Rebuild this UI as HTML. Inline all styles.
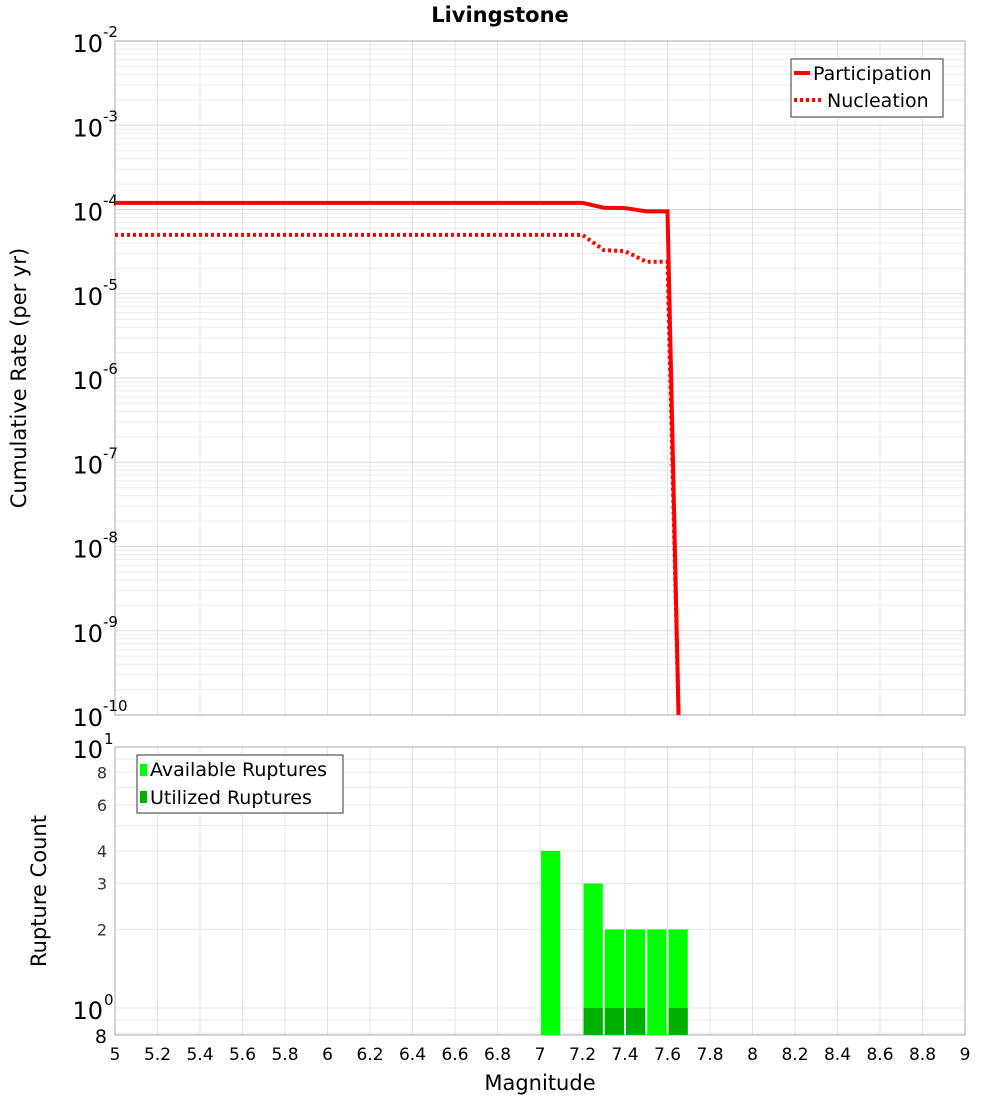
<!DOCTYPE html>
<html><head><meta charset="utf-8"><style>
body{margin:0;background:#fff;font-family:"DejaVu Sans","Liberation Sans",sans-serif}
svg text{font-family:"DejaVu Sans","Liberation Sans",sans-serif}
</style></head><body>
<svg id="c" width="1000" height="1100" xmlns="http://www.w3.org/2000/svg">
<text x="500" y="22" text-anchor="middle" font-size="21" font-weight="bold">Livingstone</text>
<g id="topg"></g>
<g id="botg"></g>
<text transform="translate(26,378) rotate(-90)" text-anchor="middle" font-size="21">Cumulative Rate (per yr)</text>
<text transform="translate(46,891) rotate(-90)" text-anchor="middle" font-size="21">Rupture Count</text>
<text x="540" y="1090" text-anchor="middle" font-size="21">Magnitude</text>
</svg>
<script>
const mags=[5,7.2,7.3,7.4,7.5,7.6,7.652];
const participation=[1.2e-4,1.2e-4,1.05e-4,1.04e-4,9.5e-5,9.5e-5,1e-10];
const nucleation=[5e-5,5e-5,3.3e-5,3.2e-5,2.4e-5,2.4e-5,1e-10];
const binCenters=[7.05,7.25,7.35,7.45,7.55,7.65];
const available=[4,3,2,2,2,2];
const utilized=[0,1,1,1,0,1];
const xTicks=[5,5.2,5.4,5.6,5.8,6,6.2,6.4,6.6,6.8,7,7.2,7.4,7.6,7.8,8,8.2,8.4,8.6,8.8,9];
const NS="http://www.w3.org/2000/svg";
const L=115,R=965,T1=41,B1=715,T2=747,B2=1035;
const x=m=>L+(m-5)/4*(R-L);
const y1=v=>T1+(-2-Math.log10(v))*(B1-T1)/8;
const y2=v=>1008-Math.log10(v)*261;
function el(p,t,a){const e=document.createElementNS(NS,t);for(const k in a)e.setAttribute(k,a[k]);p.appendChild(e);return e;}
const topG=document.getElementById('topg'),botG=document.getElementById('botg'),svgEl=document.getElementById('c');
let defs=el(svgEl,'defs',{});let cp=el(defs,'clipPath',{id:'cp1'});el(cp,'rect',{x:L,y:T1,width:R-L,height:B1-T1});
for(let e=-10;e<-2;e++)for(let k=1;k<10;k++){const v=k*Math.pow(10,e);const yy=y1(v);
 const g=el(topG,'line',{x1:L,x2:R,y1:yy,y2:yy,stroke:k==1?'#dcdcdc':'#ececec','stroke-width':1});
 }
xTicks.forEach(m=>{const g=el(topG,'line',{x1:x(m),x2:x(m),y1:T1,y2:B1,stroke:'#e4e4e4'});
 const g2=el(botG,'line',{x1:x(m),x2:x(m),y1:T2,y2:B2,stroke:'#e4e4e4'});});
el(topG,'rect',{x:L,y:T1,width:R-L,height:B1-T1,fill:'none',stroke:'#aaa'});
for(let e=-10;e<=-2;e++){const yy=y1(Math.pow(10,e));
 const t=el(topG,'text',{x:103,y:yy+11,'text-anchor':'end','font-size':24});t.textContent='10';
 
 const s=el(topG,'text',{x:103,y:yy-4,'font-size':15});s.textContent=String(e);}
function line(vals,dash,name){const pts=mags.map((m,i)=>x(m)+','+y1(vals[i])).join(' ');
 const p=el(topG,'polyline',{points:pts,fill:'none',stroke:'#ff0000','stroke-width':4,'clip-path':'url(#cp1)'});
 if(dash)p.setAttribute('stroke-dasharray','3,3');}
line(participation,false,'participation-line');line(nucleation,true,'nucleation-line');
let lg=el(topG,'g',{});
el(lg,'rect',{x:791,y:59,width:152,height:58,fill:'#fff',stroke:'#333'});
el(lg,'line',{x1:794,x2:810,y1:73,y2:73,stroke:'#f00','stroke-width':4});
el(lg,'line',{x1:794,x2:822,y1:100,y2:100,stroke:'#f00','stroke-width':4,'stroke-dasharray':'3,3'});
let t1=el(lg,'text',{x:813,y:80,'font-size':19});t1.textContent='Participation';
let t2=el(lg,'text',{x:827,y:107,'font-size':19});t2.textContent='Nucleation';
[0.8,0.9,1,2,3,4,5,6,7,8,9,10].forEach(v=>{const yy=y2(v);const g=el(botG,'line',{x1:L,x2:R,y1:yy,y2:yy,stroke:'#e8e8e8'});});
el(botG,'rect',{x:L,y:T2,width:R-L,height:B2-T2,fill:'none',stroke:'#aaa'});
binCenters.forEach((m,i)=>{const w=x(0.1+5)-x(5);
 const b=el(botG,'rect',{x:x(m)-w/2+1,y:y2(available[i]),width:w-2,height:B2-y2(available[i]),fill:'#00ff00'});
 
 if(utilized[i]>0){const u=el(botG,'rect',{x:x(m)-w/2+1,y:y2(utilized[i]),width:w-2,height:B2-y2(utilized[i]),fill:'#00b000'});
 }});
[[8,'8'],[6,'6'],[4,'4'],[3,'3'],[2,'2']].forEach(([v,s])=>{const t=el(botG,'text',{x:107,y:y2(v)+6,'text-anchor':'end','font-size':16,fill:'#333'});t.textContent=s;});
[[10,'1'],[1,'0']].forEach(([v,s])=>{const t=el(botG,'text',{x:103,y:y2(v)+11,'text-anchor':'end','font-size':24});t.textContent='10';
 const e=el(botG,'text',{x:104,y:y2(v)-3,'font-size':15});e.textContent=s;});
{const t=el(botG,'text',{x:107,y:1043,'text-anchor':'end','font-size':19});t.textContent='8';}
xTicks.forEach(m=>{const t=el(botG,'text',{x:x(m),y:1060,'text-anchor':'middle','font-size':17});t.textContent=String(m);});
let bl=el(botG,'g',{});
el(bl,'rect',{x:137,y:755,width:206,height:58,fill:'#fff',stroke:'#333'});
el(bl,'rect',{x:140,y:764,width:7,height:12,fill:'#00ff00'});
el(bl,'rect',{x:140,y:791,width:7,height:12,fill:'#00b000'});
let b1=el(bl,'text',{x:150,y:776,'font-size':19});b1.textContent='Available Ruptures';
let b2=el(bl,'text',{x:150,y:804,'font-size':19});b2.textContent='Utilized Ruptures';
</script>
</body></html>
